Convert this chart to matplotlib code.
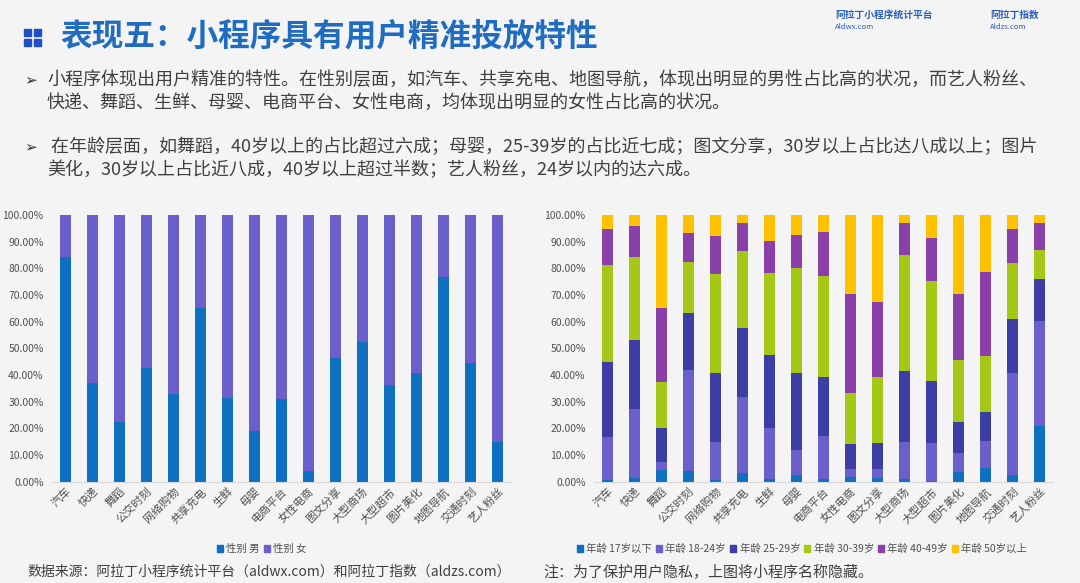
import matplotlib
matplotlib.use("Agg")
import matplotlib.pyplot as plt
from matplotlib.patches import Rectangle
from matplotlib.ticker import FuncFormatter

plt.rcParams["font.family"] = ["Noto Sans CJK SC", "DejaVu Sans"]

W, H = 1080, 583

categories = ["汽车", "快递", "舞蹈", "公交时刻", "网络购物", "共享充电", "生鲜", "母婴",
              "电商平台", "女性电商", "图文分享", "大型商场", "大型超市", "图片美化",
              "地图导航", "交通时刻", "艺人粉丝"]

# gender share (%)
male = [84.1, 36.9, 22.5, 42.8, 32.9, 65.3, 31.5, 19.0, 31.0, 4.0, 46.3, 52.5,
        36.3, 40.9, 76.6, 44.6, 15.0]
female = [15.9, 63.1, 77.5, 57.2, 67.1, 34.7, 68.5, 81.0, 69.0, 96.0, 53.7, 47.5,
          63.7, 59.1, 23.4, 55.4, 85.0]

# age share (%)
age_labels = ["年龄 17岁以下", "年龄 18-24岁", "年龄 25-29岁", "年龄 30-39岁",
              "年龄 40-49岁", "年龄 50岁以上"]
age_u17 = [0.5, 1.5, 4.4, 4.1, 0.5, 3.1, 0.9, 2.4, 0.9, 1.6, 1.25, 0.9, 0.3, 3.75,
           5.0, 2.4, 20.9]
age_18_24 = [16.1, 25.6, 3.1, 37.8, 14.5, 28.8, 19.1, 9.5, 16.2, 3.0, 3.65, 13.85,
             14.1, 6.85, 10.4, 38.2, 39.5]
age_25_29 = [28.15, 26.0, 12.5, 21.2, 25.6, 25.6, 27.5, 28.7, 22.0, 9.4, 9.5, 26.85,
             23.35, 11.9, 10.6, 20.4, 15.6]
age_30_39 = [36.5, 31.3, 17.5, 19.4, 37.3, 29.1, 30.9, 39.65, 38.0, 19.1, 25.0, 43.4,
             37.65, 23.1, 21.25, 21.1, 10.9]
age_40_49 = [13.5, 11.5, 27.5, 10.9, 14.2, 10.5, 12.0, 12.25, 16.65, 37.3, 28.1, 11.9,
             15.85, 24.65, 31.35, 12.5, 10.2]
age_50p = [5.25, 4.1, 35.0, 6.6, 7.9, 2.9, 9.6, 7.5, 6.25, 29.6, 32.5, 3.1, 8.75,
           29.75, 21.4, 5.4, 2.9]

gender_colors = ["#0F6FC0", "#6B5FCB"]
age_colors = ["#0F6FC0", "#6B5FCB", "#3D3DA6", "#A5C816", "#8B3FA9", "#FFC000"]

BG = "#F4F4F5"
TICK = "#505050"


def px_axes(fig, x0, x1, ytop, ybot):
    return fig.add_axes([x0 / W, 1 - ybot / H, (x1 - x0) / W, (ybot - ytop) / H])


def style_axis(ax):
    ax.set_facecolor("none")
    ax.set_ylim(0, 100)
    ax.set_xlim(-0.5, len(categories) - 0.5)
    ax.set_yticks(range(0, 101, 10))
    ax.yaxis.set_major_formatter(FuncFormatter(lambda v, _: f"{v:.2f}%"))
    for side in ("top", "right", "left"):
        ax.spines[side].set_visible(False)
    ax.spines["bottom"].set_color("#D9D9D9")
    ax.tick_params(axis="y", length=0, labelsize=7.5, labelcolor=TICK, pad=6)
    ax.tick_params(axis="x", length=0, labelsize=8, labelcolor=TICK, pad=3)
    ax.set_xticks(range(len(categories)))
    ax.set_xticklabels(categories, rotation=45, ha="right", rotation_mode="anchor")


def main() -> None:
    fig = plt.figure(figsize=(W / 100, H / 100), dpi=100, facecolor=BG)

    # header
    for dx, dy in [(0, 0), (10, 0), (0, 10), (10, 10)]:
        fig.patches.append(Rectangle(((24 + dx) / W, 1 - (46 - dy) / H), 7 / W, 7 / H,
                                     transform=fig.transFigure, color="#1F4FC8"))
    fig.text(60 / W, 1 - 36 / H, "表现五：小程序具有用户精准投放特性", fontsize=22.8,
             fontweight="bold", color="#1F6CC0", va="center")
    fig.text(835 / W, 1 - 15 / H, "阿拉丁小程序统计平台", fontsize=7, fontweight="bold",
             color="#2A5DBD", va="center")
    fig.text(835 / W, 1 - 27 / H, "Aldwx.com", fontsize=5.5, color="#2A5DBD", va="center")
    fig.text(990 / W, 1 - 15 / H, "阿拉丁指数", fontsize=7, fontweight="bold",
             color="#2A5DBD", va="center")
    fig.text(990 / W, 1 - 27 / H, "Aldzs.com", fontsize=5.5, color="#2A5DBD", va="center")

    # bullet text
    body = "#404040"
    lines = [
        (80, "➢", "小程序体现出用户精准的特性。在性别层面，如汽车、共享充电、地图导航，体现出明显的男性占比高的状况，而艺人粉丝、"),
        (103, None, "快递、舞蹈、生鲜、母婴、电商平台、女性电商，均体现出明显的女性占比高的状况。"),
        (147, "➢", " 在年龄层面，如舞蹈，40岁以上的占比超过六成；母婴，25-39岁的占比近七成；图文分享，30岁以上占比达八成以上；图片"),
        (170, None, "美化，30岁以上占比近八成，40岁以上超过半数；艺人粉丝，24岁以内的达六成。"),
    ]
    for y, bullet, text in lines:
        if bullet:
            fig.text(24 / W, 1 - y / H, bullet, fontsize=11, color="#303030", va="center",
                     family=["DejaVu Sans"])
        fig.text(47 / W, 1 - y / H, text, fontsize=13, color=body, va="center")

    x = list(range(len(categories)))
    width = 0.4

    # gender chart
    ax1 = px_axes(fig, 52, 511, 215, 481.7)
    bottom = [0.0] * len(categories)
    for values, color in zip([male, female], gender_colors):
        ax1.bar(x, values, width, bottom=bottom, color=color, zorder=2)
        bottom = [b + v for b, v in zip(bottom, values)]
    style_axis(ax1)

    # age chart
    ax2 = px_axes(fig, 594, 1053, 215, 481.7)
    series = [age_u17, age_18_24, age_25_29, age_30_39, age_40_49, age_50p]
    bottom = [0.0] * len(categories)
    for values, color in zip(series, age_colors):
        ax2.bar(x, values, width, bottom=bottom, color=color, zorder=2)
        bottom = [b + v for b, v in zip(bottom, values)]
    style_axis(ax2)

    # legends
    def legend_row(xc, y, labels, colors):
        handles = [Rectangle((0, 0), 1, 1, color=c) for c in colors]
        fig.legend(handles, labels, loc="center", bbox_to_anchor=(xc / W, 1 - y / H),
                   ncol=len(labels), frameon=False, fontsize=7.5, handlelength=0.6,
                   handleheight=0.6, handletextpad=0.3, columnspacing=0.4,
                   labelcolor=TICK)

    legend_row(262, 549, ["性别 男", "性别 女"], gender_colors)
    legend_row(802, 549, age_labels, age_colors)

    fig.text(27 / W, 1 - 572 / H, "数据来源：阿拉丁小程序统计平台（aldwx.com）和阿拉丁指数（aldzs.com）",
             fontsize=10, color=body, va="center")
    fig.text(543 / W, 1 - 572 / H, "注：为了保护用户隐私，上图将小程序名称隐藏。",
             fontsize=10.8, color=body, va="center")

    fig.savefig("out.png", dpi=100, facecolor=BG)


if __name__ == "__main__":
    main()
